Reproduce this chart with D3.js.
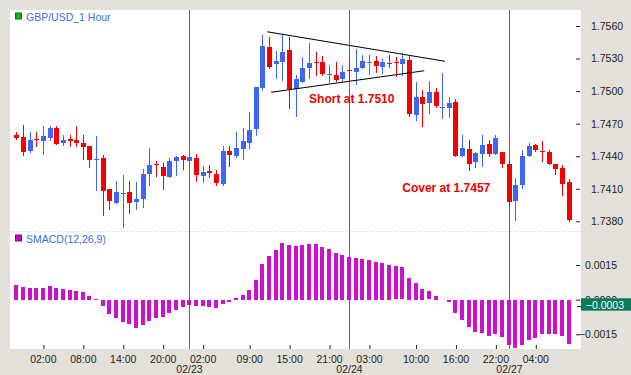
<!DOCTYPE html>
<html>
<head>
<meta charset="utf-8">
<script src="https://cdn.jsdelivr.net/npm/d3@7"></script>
<style>
  html, body { margin: 0; padding: 0; background: #e3e1da; }
  svg { display: block; font-family: Arial, 'Liberation Sans', sans-serif; }
</style>
</head>
<body>
<div id="chart"></div>
<script>
// hourly candles, index 0 = 02/22 22:00
const open  = [1.7460,1.7458,1.7445,1.7456,1.7454,1.7457,1.7466,1.7452,1.7456,1.7455,1.7452,1.7449,1.7436,1.7438,1.7410,1.7397,1.7406,1.7407,1.7398,1.7401,1.7424,1.7433,1.7430,1.7421,1.7435,1.7440,1.7435,1.7438,1.7421,1.7426,1.7424,1.7415,1.7445,1.7441,1.7447,1.7452,1.7465,1.7503,1.7541,1.7525,1.7527,1.7538,1.7502,1.7508,1.7521,1.7527,1.7527,1.7516,1.7515,1.7512,1.7519,1.7517,1.7522,1.7526,1.7528,1.7522,1.7526,1.7527,1.7525,1.7529,1.7478,1.7495,1.7489,1.7499,1.7485,1.7484,1.7490,1.7441,1.7447,1.7435,1.7442,1.7451,1.7442,1.7444,1.7433,1.7398,1.7413,1.7440,1.7450,1.7445,1.7444,1.7433,1.7429,1.7416];
const high  = [1.7462,1.7469,1.7462,1.7462,1.7468,1.7468,1.7468,1.7460,1.7460,1.7468,1.7460,1.7449,1.7459,1.7441,1.7410,1.7417,1.7423,1.7417,1.7416,1.7428,1.7448,1.7436,1.7434,1.7438,1.7440,1.7441,1.7440,1.7442,1.7431,1.7432,1.7427,1.7449,1.7449,1.7462,1.7466,1.7481,1.7504,1.7552,1.7550,1.7537,1.7552,1.7550,1.7515,1.7531,1.7544,1.7536,1.7532,1.7524,1.7527,1.7524,1.7529,1.7539,1.7533,1.7533,1.7532,1.7530,1.7533,1.7531,1.7535,1.7532,1.7508,1.7501,1.7509,1.7503,1.7517,1.7495,1.7493,1.7460,1.7455,1.7444,1.7460,1.7455,1.7460,1.7444,1.7437,1.7420,1.7446,1.7452,1.7451,1.7454,1.7446,1.7433,1.7432,1.7419];
const low   = [1.7456,1.7441,1.7444,1.7449,1.7442,1.7455,1.7451,1.7450,1.7449,1.7449,1.7437,1.7430,1.7409,1.7386,1.7391,1.7397,1.7375,1.7388,1.7391,1.7393,1.7413,1.7422,1.7410,1.7421,1.7423,1.7428,1.7435,1.7417,1.7416,1.7421,1.7413,1.7413,1.7431,1.7439,1.7437,1.7448,1.7460,1.7501,1.7521,1.7512,1.7510,1.7484,1.7477,1.7508,1.7512,1.7515,1.7515,1.7508,1.7509,1.7509,1.7509,1.7507,1.7521,1.7516,1.7518,1.7517,1.7522,1.7514,1.7515,1.7477,1.7473,1.7468,1.7480,1.7485,1.7475,1.7476,1.7440,1.7440,1.7427,1.7430,1.7431,1.7440,1.7442,1.7430,1.7395,1.7381,1.7411,1.7440,1.7445,1.7436,1.7433,1.7424,1.7404,1.7380];
const close = [1.7457,1.7444,1.7455,1.7455,1.7459,1.7466,1.7451,1.7455,1.7454,1.7452,1.7448,1.7436,1.7437,1.7408,1.7399,1.7407,1.7406,1.7397,1.7401,1.7424,1.7432,1.7432,1.7422,1.7436,1.7439,1.7436,1.7439,1.7422,1.7425,1.7424,1.7416,1.7445,1.7441,1.7448,1.7454,1.7464,1.7504,1.7542,1.7523,1.7528,1.7536,1.7502,1.7511,1.7521,1.7526,1.7526,1.7516,1.7516,1.7510,1.7518,1.7518,1.7521,1.7528,1.7527,1.7523,1.7527,1.7525,1.7526,1.7530,1.7479,1.7495,1.7489,1.7499,1.7486,1.7485,1.7489,1.7440,1.7448,1.7433,1.7443,1.7450,1.7442,1.7457,1.7433,1.7398,1.7413,1.7440,1.7449,1.7445,1.7444,1.7433,1.7428,1.7414,1.7381];

const smacd = [0.00065,0.00056,0.00051,0.00051,0.00051,0.00061,0.00051,0.00048,0.00043,0.00039,0.00035,0.00017,0.00004,-0.00026,-0.00059,-0.00077,-0.00094,-0.00105,-0.00120,-0.00107,-0.00091,-0.00077,-0.00072,-0.00055,-0.00042,-0.00029,-0.00020,-0.00025,-0.00026,-0.00030,-0.00033,-0.00016,-0.00007,0.00009,0.00022,0.00043,0.00087,0.00156,0.00191,0.00217,0.00247,0.00238,0.00234,0.00238,0.00241,0.00243,0.00230,0.00221,0.00204,0.00195,0.00186,0.00182,0.00178,0.00172,0.00165,0.00160,0.00152,0.00144,0.00140,0.00095,0.00074,0.00048,0.00036,0.00017,0,-0.00009,-0.00055,-0.00087,-0.00116,-0.00139,-0.00142,-0.00156,-0.00146,-0.00159,-0.00195,-0.00207,-0.00194,-0.00175,-0.00163,-0.00149,-0.00146,-0.00146,-0.00156,-0.00189];

const timeTickIdx = [4, 10, 16, 22, 28, 35, 41, 47, 53, 60, 66, 72, 78];
const timeTickLabels = ['02:00','08:00','14:00','20:00','02:00','09:00','15:00','21:00','03:00','10:00','16:00','22:00','04:00'];
const dayIdx = [26, 50, 74];
const dayLabels = ['02/23', '02/24', '02/27'];
const priceTicks = [1.7560, 1.7530, 1.7500, 1.7470, 1.7440, 1.7410, 1.7380];
const macdTicks = [0.0015, 0, -0.0015];
const lastMacd = -0.0003;

// triangle lines [index, price]
const upperLine = [[37.7, 1.75547], [64.4, 1.75275]];
const lowerLine = [[38.3, 1.74989], [61.3, 1.75188]];
const notes = [
  { text: 'Short at 1.7510', i: 44, p: 1.7489 },
  { text: 'Cover at 1.7457', i: 58, p: 1.74073 }
];

const W = 631, H = 375;
const plot = { left: 10, right: 581, top: 10, split: 231, bottom: 349 };
const fs = 10.5;

const svg = d3.select('#chart').append('svg')
  .attr('width', W)
  .attr('height', H);

svg.append('rect').attr('width', W).attr('height', H).attr('fill', '#e3e1da');
svg.append('rect')
  .attr('x', plot.left).attr('y', plot.top)
  .attr('width', plot.right - plot.left).attr('height', plot.bottom - plot.top)
  .attr('fill', '#fff');

const x = d3.scaleLinear().domain([0, 83]).range([16.3, 16.3 + 83 * 6.654]);
const y = d3.scaleLinear().domain([1.7380, 1.7560]).range([221.3, 26]);
const ym = d3.scaleLinear().domain([-0.0015, 0.0015]).range([334.3, 265]);
const px = (i) => Math.round(x(i));

// panel separator
svg.append('line')
  .attr('x1', plot.left).attr('x2', plot.right)
  .attr('y1', plot.split + 0.5).attr('y2', plot.split + 0.5)
  .attr('stroke', '#d6cfb4').attr('stroke-dasharray', '1,2');

// day separators
svg.selectAll('.day').data(dayIdx).join('line')
  .attr('x1', (d) => px(d) + 0.5).attr('x2', (d) => px(d) + 0.5)
  .attr('y1', plot.top).attr('y2', plot.bottom)
  .attr('stroke', '#5f6a60');

// candles
const up = '#3e66f2', down = '#f50000';
const idx = d3.range(open.length);
const candles = svg.append('g');
candles.selectAll('line').data(idx).join('line')
  .attr('x1', (i) => px(i) + 0.5).attr('x2', (i) => px(i) + 0.5)
  .attr('y1', (i) => Math.round(y(high[i])))
  .attr('y2', (i) => Math.round(y(low[i])) + 1)
  .attr('stroke', (i) => close[i] >= open[i] ? up : down);
candles.selectAll('rect').data(idx).join('rect')
  .attr('x', (i) => px(i) - 2)
  .attr('width', 5)
  .attr('y', (i) => Math.round(y(Math.max(open[i], close[i]))))
  .attr('height', (i) => Math.max(1, Math.round(Math.abs(y(open[i]) - y(close[i])))))
  .attr('fill', (i) => close[i] >= open[i] ? up : down);

// triangle
[upperLine, lowerLine].forEach((seg) => {
  svg.append('line')
    .attr('x1', x(seg[0][0])).attr('y1', y(seg[0][1]))
    .attr('x2', x(seg[1][0])).attr('y2', y(seg[1][1]))
    .attr('stroke', '#000').attr('stroke-width', 1.1);
});

svg.selectAll('.note').data(notes).join('text')
  .attr('x', (d) => x(d.i)).attr('y', (d) => y(d.p))
  .attr('fill', '#f00000').attr('font-weight', 'bold').attr('font-size', 12)
  .text((d) => d.text);

// smacd bars
svg.append('g').selectAll('rect').data(idx.filter((i) => smacd[i] !== 0)).join('rect')
  .attr('x', (i) => px(i) - 2)
  .attr('width', 4)
  .attr('y', (i) => Math.round(ym(Math.max(0, smacd[i]))))
  .attr('height', (i) => Math.max(1, Math.round(Math.abs(ym(smacd[i]) - ym(0)))))
  .attr('fill', '#cc10cc');

// price axis
const priceAxis = svg.append('g')
  .attr('transform', `translate(${plot.right - 5},0)`)
  .call(d3.axisRight(y).tickValues(priceTicks).tickFormat(d3.format('.4f')).tickSize(4).tickPadding(11));
const macdAxis = svg.append('g')
  .attr('transform', `translate(${plot.right - 5},0)`)
  .call(d3.axisRight(ym).tickValues(macdTicks).tickFormat(d3.format('.4f')).tickSize(4).tickPadding(11));
macdAxis.selectAll('text').attr('text-anchor', 'end').attr('x', 41);
[priceAxis, macdAxis].forEach((g) => {
  g.select('.domain').remove();
  g.selectAll('line').attr('stroke', '#222');
  g.selectAll('text').attr('fill', '#222').attr('font-size', fs).attr('font-family', 'Arial, Liberation Sans, sans-serif');
});

// last value box
const lastY = ym(lastMacd);
svg.append('line')
  .attr('x1', plot.right - 4).attr('x2', plot.right)
  .attr('y1', Math.round(lastY) - 0.5).attr('y2', Math.round(lastY) - 0.5)
  .attr('stroke', '#222');
svg.append('rect')
  .attr('x', plot.right).attr('y', lastY - 8.3)
  .attr('width', W - plot.right).attr('height', 12.4)
  .attr('fill', '#0a7a5a');
svg.append('text')
  .attr('x', 624).attr('y', lastY + 2)
  .attr('text-anchor', 'end').attr('fill', '#fff').attr('font-size', fs)
  .text(d3.format('.4f')(lastMacd));

// time axis
const timeAxis = svg.append('g')
  .attr('transform', `translate(0,${plot.bottom})`)
  .call(d3.axisBottom(x).tickValues(timeTickIdx)
    .tickFormat((d, k) => timeTickLabels[k])
    .tickSizeInner(-4).tickSizeOuter(0).tickPadding(7));
timeAxis.select('.domain').remove();
timeAxis.selectAll('line').attr('stroke', '#222').attr('transform', 'translate(0.5,0)');
timeAxis.selectAll('text').attr('fill', '#222').attr('font-size', fs).attr('font-family', 'Arial, Liberation Sans, sans-serif');

svg.selectAll('.date').data(dayIdx).join('text')
  .attr('x', (d) => px(d) + 0.5).attr('y', 373)
  .attr('text-anchor', 'middle').attr('fill', '#222').attr('font-size', fs)
  .text((d, k) => dayLabels[k]);

// panel titles
const titles = [
  { label: 'GBP/USD_1 Hour', y: 20.5, color: '#14b014' },
  { label: 'SMACD(12,26,9)', y: 242.5, color: '#c010c0' }
];
titles.forEach((t) => {
  svg.append('rect')
    .attr('x', 15.5).attr('y', t.y - 7.5).attr('width', 6).attr('height', 6)
    .attr('fill', t.color).attr('stroke', d3.color(t.color).darker(1));
  svg.append('text')
    .attr('x', 26).attr('y', t.y)
    .attr('fill', '#3a6ee8').attr('font-size', fs)
    .text(t.label);
});
</script>
</body>
</html>
